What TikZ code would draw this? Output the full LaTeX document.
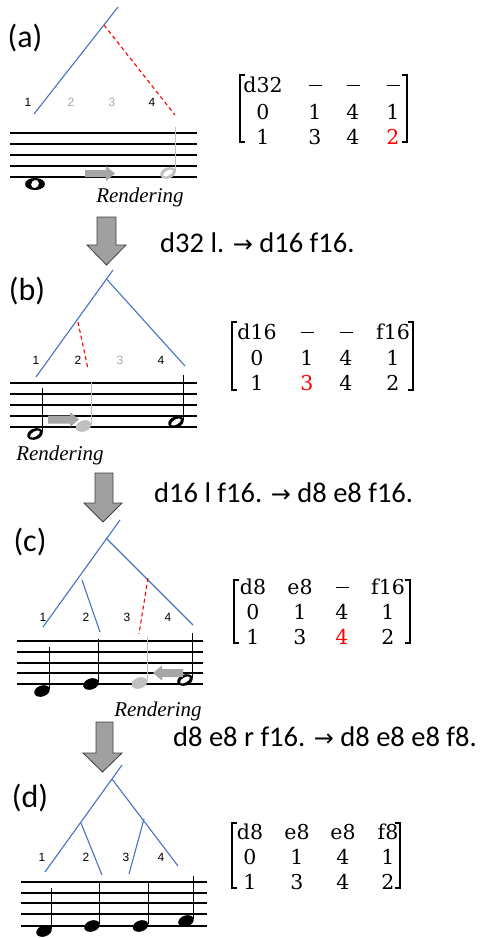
\documentclass[tikz,border=0pt]{standalone}
\usepackage{fontspec}
\setmainfont{Liberation Serif}
\newfontfamily\calfont{Carlito}
\newfontfamily\arialfont{Liberation Sans}
\newfontfamily\dvfont{DejaVu Sans}
\newfontfamily\dvserif{DejaVu Serif}
\definecolor{treeblue}{HTML}{4472C4}
\definecolor{notegray}{HTML}{C0C0C0}
\definecolor{numgray}{HTML}{A6A6A6}
\definecolor{arrowfill}{HTML}{A0A0A0}
\definecolor{arrowedge}{HTML}{404040}
\newcommand{\matfont}{\dvserif\fontsize{20.5}{24}\selectfont}
\newcommand{\mdash}{\rule[6pt]{13pt}{1.2pt}}
\newcommand{\rarr}{{\dvfont\fontsize{24}{28}\selectfont →}}
\newcommand{\qhead}[3]{\fill[#3,rotate around={20:(#1,#2)}] (#1,#2) ellipse [x radius=8, y radius=5.5];}
\newcommand{\hhead}[3]{\fill[#3,rotate around={20:(#1,#2)}] (#1,#2) ellipse [x radius=8, y radius=5.5];
  \fill[white,rotate around={30:(#1,#2)}] (#1,#2) ellipse [x radius=5.5, y radius=2.6];}
\begin{document}
\begin{tikzpicture}[x=1pt,y=-1pt,
  tree/.style={draw=treeblue, line width=1.1pt},
  reddash/.style={draw=red, line width=1.1pt, dash pattern=on 4pt off 3pt},
  staffline/.style={draw=black, line width=1.3pt},
  stemline/.style={line width=0.9pt},
  num/.style={font=\arialfont\fontsize{12}{14}\selectfont, inner sep=0},
  ment/.style={anchor=base, inner sep=0, font=\matfont},
  brk/.style={line width=1.3pt},
  plabel/.style={font=\calfont\fontsize{32}{36}\selectfont, inner sep=0},
  trans/.style={font=\calfont\fontsize{28.5}{32}\selectfont, anchor=west, inner sep=0},
  rend/.style={font=\itshape\fontsize{21}{24}\selectfont, inner sep=0},
  bigarrow/.style={fill=arrowfill, draw=arrowedge, line width=0.8pt, line join=miter},
  smallarrow/.style={fill=numgray}
]
\useasboundingbox (0,0) rectangle (488,938);

% ================= panel (a) =================
\node[plabel] (la) at (25,38) {(a)};
\coordinate (aT) at (118,7); \coordinate (aL1) at (34,114);
\coordinate (aF) at (104,25); \coordinate (aL4) at (175,115);
\draw[tree] (aT) -- (aL1);
\draw[reddash] (aF) -- (aL4);
\node[num] (an1) at (28,102) {1};
\node[num,text=numgray] (an2) at (71,102) {2};
\node[num,text=numgray] (an3) at (112,102) {3};
\node[num] (an4) at (152,102) {4};
\foreach \yy in {133,144,155,166,177} \draw[staffline] (10,\yy) -- (197,\yy);
% whole note
\fill (35,184) ellipse [x radius=10, y radius=6];
\fill[white,rotate around={-40:(35,184)}] (35,184) ellipse [x radius=3.6, y radius=4.2];
% gray half note
\hhead{168}{173}{notegray}
\draw[stemline,notegray] (175.5,127) -- (175.5,172);
\fill[smallarrow] (85,170) -- (106,170) -- (106,166) -- (115,173.5) -- (106,181) -- (106,177) -- (85,177) -- cycle;
\node[rend] (ra) at (140,197) {Rendering};
% matrix (a)
\node[ment] (a11) at (263,92) {d32};
\node[ment] (a12) at (315,92) {\mdash};
\node[ment] (a13) at (353,92) {\mdash};
\node[ment] (a14) at (393,92) {\mdash};
\node[ment] (a21) at (263,119) {0};
\node[ment] (a22) at (315,119) {1};
\node[ment] (a23) at (353,119) {4};
\node[ment] (a24) at (393,119) {1};
\node[ment] (a31) at (263,144) {1};
\node[ment] (a32) at (315,144) {3};
\node[ment] (a33) at (353,144) {4};
\node[ment,text=red] (a34) at (393,144) {2};
\draw[brk] (245,75) -- (240,75) -- (240,142) -- (245,142);
\draw[brk] (402,75) -- (407,75) -- (407,142) -- (402,142);

% arrow a->b
\draw[bigarrow] (97,217) -- (116,217) -- (116,245) -- (126,245) -- (106.5,265) -- (87,245) -- (97,245) -- cycle;
\node[trans] (tab) at (160,243) {d32 l. \rarr{} d16 f16.};

% ================= panel (b) =================
\node[plabel] (lb) at (27,291) {(b)};
\coordinate (bT) at (113,270); \coordinate (bL1) at (36,377);
\coordinate (bF) at (106.5,279); \coordinate (bL4) at (185,366);
\coordinate (bR0) at (78,322); \coordinate (bR2) at (88,369);
\draw[tree] (bT) -- (bL1);
\draw[tree] (bF) -- (bL4);
\draw[reddash] (bR0) -- (bR2);
\node[num] (bn1) at (36,360) {1};
\node[num] (bn2) at (78,360) {2};
\node[num,text=numgray] (bn3) at (120,360) {3};
\node[num] (bn4) at (161,360) {4};
\foreach \yy in {383,394,405,416,427} \draw[staffline] (10,\yy) -- (197,\yy);
\hhead{35}{434}{black}
\draw[stemline] (42.5,388) -- (42.5,432);
\qhead{83.5}{426}{notegray}
\draw[stemline,notegray] (91,382) -- (91,425);
\hhead{176}{422}{black}
\draw[stemline] (183.3,375) -- (183.3,420);
\fill[smallarrow] (48,415.5) -- (70,415.5) -- (70,412) -- (79,419.5) -- (70,427) -- (70,423.5) -- (48,423.5) -- cycle;
\node[rend] (rb) at (60,455) {Rendering};
% matrix (b)
\node[ment] (b11) at (257,339) {d16};
\node[ment] (b12) at (307,339) {\mdash};
\node[ment] (b13) at (346,339) {\mdash};
\node[ment] (b14) at (393,339) {f16};
\node[ment] (b21) at (257,365) {0};
\node[ment] (b22) at (307,365) {1};
\node[ment] (b23) at (346,365) {4};
\node[ment] (b24) at (393,365) {1};
\node[ment] (b31) at (257,390) {1};
\node[ment,text=red] (b32) at (307,390) {3};
\node[ment] (b33) at (346,390) {4};
\node[ment] (b34) at (393,390) {2};
\draw[brk] (237,322) -- (232,322) -- (232,390) -- (237,390);
\draw[brk] (408,322) -- (413,322) -- (413,390) -- (408,390);

% arrow b->c
\draw[bigarrow] (95,473) -- (113,473) -- (113,503) -- (122,503) -- (103,522) -- (84,503) -- (95,503) -- cycle;
\node[trans] (tbc) at (154,493) {d16 l f16. \rarr{} d8 e8 f16.};

% ================= panel (c) =================
\node[plabel] (lc) at (30,542) {(c)};
\coordinate (cT) at (120,520); \coordinate (cL1) at (43,627);
\coordinate (cF) at (106,538); \coordinate (cL4) at (193,625);
\coordinate (cI2) at (82,580); \coordinate (cL2) at (100,632);
\coordinate (cR0) at (148,578); \coordinate (cR3) at (139,634);
\draw[tree] (cT) -- (cL1);
\draw[tree] (cF) -- (cL4);
\draw[tree] (cI2) -- (cL2);
\draw[reddash] (cR0) -- (cR3);
\node[num] (cn1) at (43,617) {1};
\node[num] (cn2) at (86,617) {2};
\node[num] (cn3) at (127,617) {3};
\node[num] (cn4) at (168,617) {4};
\foreach \yy in {641,652,663,673,684} \draw[staffline] (17,\yy) -- (203,\yy);
\qhead{42}{691}{black}
\draw[stemline] (49,647) -- (49,689);
\qhead{91}{684}{black}
\draw[stemline] (98.8,639) -- (98.8,682);
\qhead{139.5}{683}{notegray}
\draw[stemline,notegray] (147,637) -- (147,681);
\hhead{185}{680}{black}
\draw[stemline] (192.6,633) -- (192.6,678);
\fill[smallarrow] (183,669) -- (162,669) -- (162,665.5) -- (153,673) -- (162,680.5) -- (162,677) -- (183,677) -- cycle;
\node[rend] (rc) at (158,711) {Rendering};
% matrix (c)
\node[ment] (c11) at (253,594) {d8};
\node[ment] (c12) at (300,594) {e8};
\node[ment] (c13) at (342,594) {\mdash};
\node[ment] (c14) at (388,594) {f16};
\node[ment] (c21) at (253,619) {0};
\node[ment] (c22) at (300,619) {1};
\node[ment] (c23) at (342,619) {4};
\node[ment] (c24) at (388,619) {1};
\node[ment] (c31) at (253,644) {1};
\node[ment] (c32) at (300,644) {3};
\node[ment,text=red] (c33) at (342,644) {4};
\node[ment] (c34) at (388,644) {2};
\draw[brk] (239,580) -- (234,580) -- (234,643) -- (239,643);
\draw[brk] (405,580) -- (410,580) -- (410,643) -- (405,643);

% arrow c->d
\draw[bigarrow] (96,722) -- (113,722) -- (113,753) -- (122,753) -- (102.5,772) -- (83,753) -- (96,753) -- cycle;
\node[trans] (tcd) at (173,737) {d8 e8 r f16. \rarr{} d8 e8 e8 f8.};

% ================= panel (d) =================
\node[plabel] (ld) at (30,798) {(d)};
\coordinate (dT) at (122,765); \coordinate (dL1) at (45,872);
\coordinate (dF) at (112,779); \coordinate (dL4) at (178,866);
\coordinate (dI2) at (81,823); \coordinate (dL2) at (102,875);
\coordinate (dI3) at (144,819); \coordinate (dL3) at (129,874);
\draw[tree] (dT) -- (dL1);
\draw[tree] (dF) -- (dL4);
\draw[tree] (dI2) -- (dL2);
\draw[tree] (dI3) -- (dL3);
\node[num] (dn1) at (42,857) {1};
\node[num] (dn2) at (86,857) {2};
\node[num] (dn3) at (126,857) {3};
\node[num] (dn4) at (161,857) {4};
\foreach \yy in {882,893,903,914,926} \draw[staffline] (21,\yy) -- (207,\yy);
\qhead{44}{931}{black}
\draw[stemline] (51,888) -- (51,929);
\qhead{92}{926}{black}
\draw[stemline] (99.8,882) -- (99.8,924);
\qhead{140.5}{926}{black}
\draw[stemline] (148.2,882) -- (148.2,924);
\qhead{186}{921}{black}
\draw[stemline] (193.8,876) -- (193.8,919);
% matrix (d)
\node[ment] (d11) at (250,839) {d8};
\node[ment] (d12) at (297,839) {e8};
\node[ment] (d13) at (343,839) {e8};
\node[ment] (d14) at (388,839) {f8};
\node[ment] (d21) at (250,864) {0};
\node[ment] (d22) at (297,864) {1};
\node[ment] (d23) at (343,864) {4};
\node[ment] (d24) at (388,864) {1};
\node[ment] (d31) at (250,889) {1};
\node[ment] (d32) at (297,889) {3};
\node[ment] (d33) at (343,889) {4};
\node[ment] (d34) at (388,889) {2};
\draw[brk] (237,823) -- (232,823) -- (232,888) -- (237,888);
\draw[brk] (395,823) -- (400,823) -- (400,888) -- (395,888);
\end{tikzpicture}
\end{document}
